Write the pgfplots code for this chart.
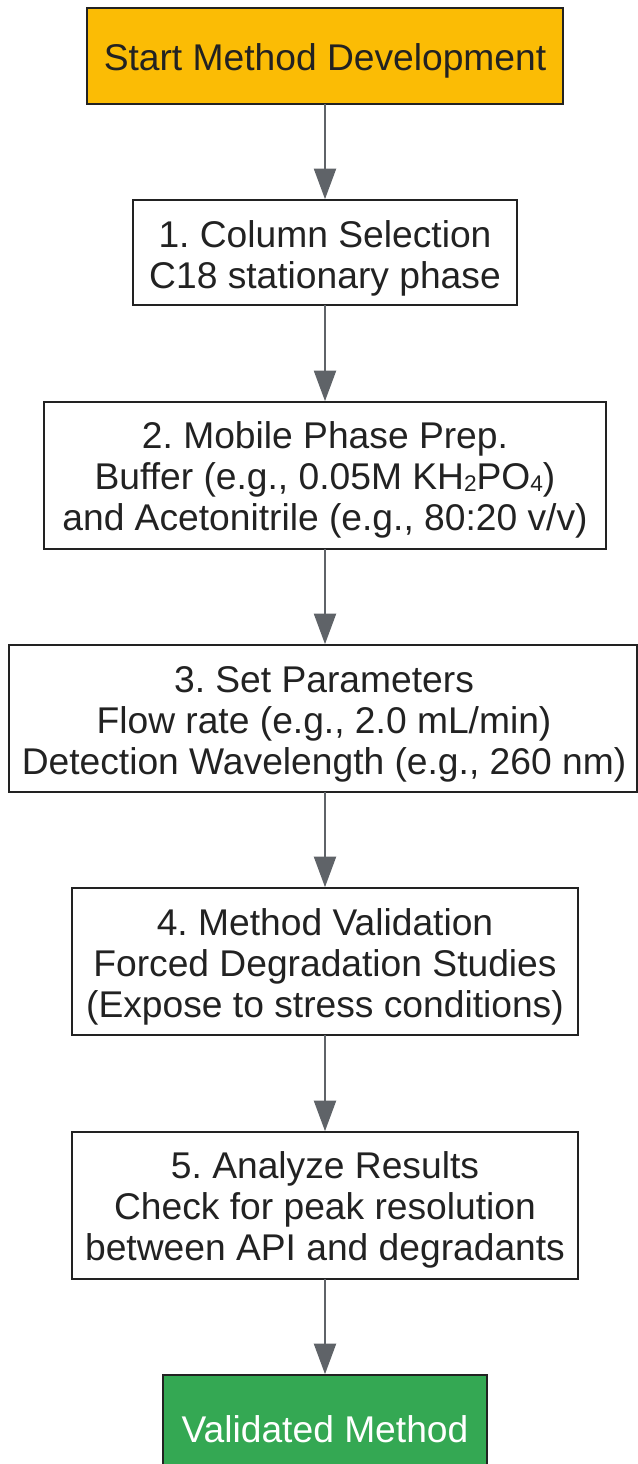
\documentclass[border=0pt]{standalone}
\usepackage{pgfplots}
\pgfplotsset{compat=1.18}
\usepackage{fontspec}
\setmainfont{Liberation Sans}
\usetikzlibrary{arrows.meta}
\definecolor{startc}{HTML}{FBBC05}
\definecolor{endc}{HTML}{34A853}
\definecolor{arrc}{HTML}{5F6368}
\definecolor{bord}{HTML}{222222}
\frenchspacing
\newcommand{\sub}[1]{\raisebox{-0.05em}{\fontsize{17}{17}\selectfont #1}}
\tikzset{
  txt/.style={font=\fontsize{27.9}{30.8}\selectfont, align=center, text=bord, inner sep=0pt},
  bx/.style={draw=bord, line width=1.5pt},
  arr/.style={draw=arrc, line width=1.8pt, -{Triangle[length=23pt,width=16.5pt]}, shorten >=0.6pt}
}
\begin{document}
\begin{tikzpicture}
\begin{axis}[name=ax, scale only axis, width=478.5pt, height=1098pt,
  xmin=0, xmax=638, ymin=0, ymax=1464, axis lines=none, clip=true, y dir=reverse]
  % boxes
  \draw[bx, fill=startc] (axis cs:87,8) rectangle (axis cs:563,104);
  \draw[bx, fill=white] (axis cs:133,200) rectangle (axis cs:517,305);
  \draw[bx, fill=white] (axis cs:44,402) rectangle (axis cs:606,549);
  \draw[bx, fill=white] (axis cs:9,645) rectangle (axis cs:636.5,792);
  \draw[bx, fill=white] (axis cs:72,888) rectangle (axis cs:578,1035);
  \draw[bx, fill=white] (axis cs:72,1132) rectangle (axis cs:578,1279);
  \draw[bx, fill=endc] (axis cs:163,1375) rectangle (axis cs:487,1500);
  % arrows
  \draw[arr] (axis cs:325,104) -- (axis cs:325,200);
  \draw[arr] (axis cs:325,305) -- (axis cs:325,402);
  \draw[arr] (axis cs:325,549) -- (axis cs:325,645);
  \draw[arr] (axis cs:325,792) -- (axis cs:325,888);
  \draw[arr] (axis cs:325,1035) -- (axis cs:325,1132);
  \draw[arr] (axis cs:325,1279) -- (axis cs:325,1375);
  % texts
  \node[txt] at (axis cs:325,61) {Start Method Development};
  \node[txt] at (axis cs:325,258) {1. Column Selection\\C18 stationary phase};
  \node[txt] at (axis cs:325,480) {2. Mobile Phase Prep.\\Buffer (e.g., 0.05M KH\sub{2}PO\sub{4})\\and Acetonitrile (e.g., 80:20 v/v)};
  \node[txt] at (axis cs:324,724) {3. Set Parameters\\Flow rate (e.g., 2.0 mL/min)\\Detection Wavelength (e.g., 260 nm)};
  \node[txt] at (axis cs:325,967) {4. Method Validation\\Forced Degradation Studies\\(Expose to stress conditions)};
  \node[txt] at (axis cs:325,1210) {5. Analyze Results\\Check for peak resolution\\between API and degradants};
  \node[txt, text=white] at (axis cs:325,1429) {Validated Method};
\end{axis}
\pgfresetboundingbox
\path[use as bounding box] (ax.south west) rectangle (ax.north east);
\end{tikzpicture}
\end{document}
